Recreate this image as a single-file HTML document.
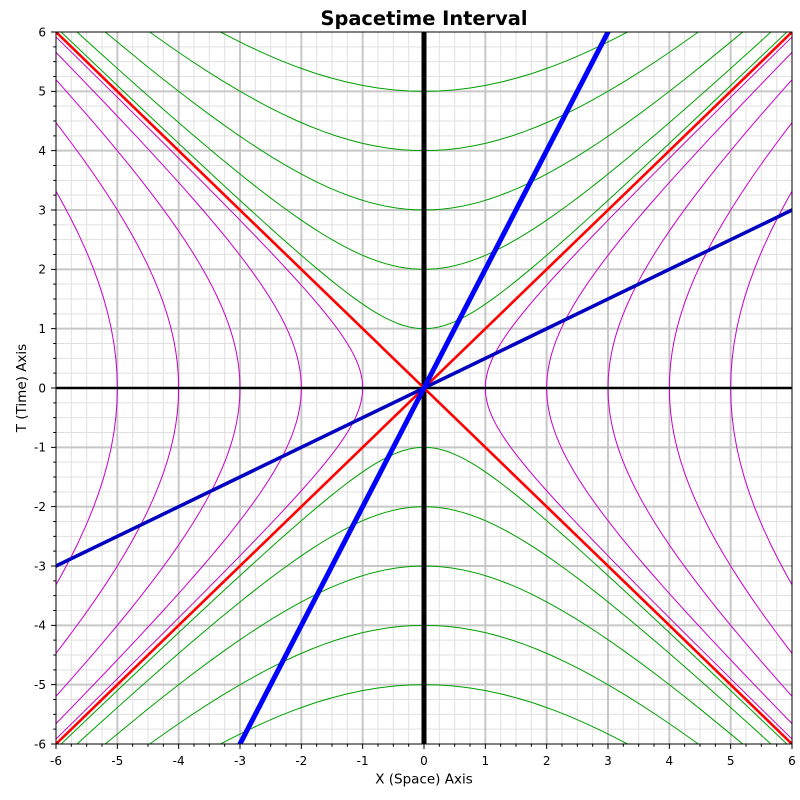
<!DOCTYPE html>
<html><head><meta charset="utf-8"><style>
html,body{margin:0;padding:0;background:#fff;width:800px;height:800px;overflow:hidden;}
svg{display:block;}
text{font-family:"DejaVu Sans","Liberation Sans",sans-serif;fill:#000;}
.ns{vector-effect:non-scaling-stroke;fill:none;stroke-linejoin:round;}
</style></head><body>
<svg width="800" height="800" viewBox="0 0 800 800" xmlns="http://www.w3.org/2000/svg">
<rect x="0" y="0" width="800" height="800" fill="#fff"/>
<defs><clipPath id="c"><rect x="56" y="32" width="736" height="712"/></clipPath></defs>
<g clip-path="url(#c)">
<g transform="translate(424 388) scale(61.33333 -59.33333)">
<path class="ns" stroke="#e0e0e0" stroke-width="1" d="M-5.75 -6V6M-5.5 -6V6M-5.25 -6V6M-4.75 -6V6M-4.5 -6V6M-4.25 -6V6M-3.75 -6V6M-3.5 -6V6M-3.25 -6V6M-2.75 -6V6M-2.5 -6V6M-2.25 -6V6M-1.75 -6V6M-1.5 -6V6M-1.25 -6V6M-0.75 -6V6M-0.5 -6V6M-0.25 -6V6M0.25 -6V6M0.5 -6V6M0.75 -6V6M1.25 -6V6M1.5 -6V6M1.75 -6V6M2.25 -6V6M2.5 -6V6M2.75 -6V6M3.25 -6V6M3.5 -6V6M3.75 -6V6M4.25 -6V6M4.5 -6V6M4.75 -6V6M5.25 -6V6M5.5 -6V6M5.75 -6V6M-6 -5.75H6M-6 -5.5H6M-6 -5.25H6M-6 -4.75H6M-6 -4.5H6M-6 -4.25H6M-6 -3.75H6M-6 -3.5H6M-6 -3.25H6M-6 -2.75H6M-6 -2.5H6M-6 -2.25H6M-6 -1.75H6M-6 -1.5H6M-6 -1.25H6M-6 -0.75H6M-6 -0.5H6M-6 -0.25H6M-6 0.25H6M-6 0.5H6M-6 0.75H6M-6 1.25H6M-6 1.5H6M-6 1.75H6M-6 2.25H6M-6 2.5H6M-6 2.75H6M-6 3.25H6M-6 3.5H6M-6 3.75H6M-6 4.25H6M-6 4.5H6M-6 4.75H6M-6 5.25H6M-6 5.5H6M-6 5.75H6"/>
<path class="ns" stroke="#c8c8c8" stroke-width="2" d="M-5 -6V6M-4 -6V6M-3 -6V6M-2 -6V6M-1 -6V6M0 -6V6M1 -6V6M2 -6V6M3 -6V6M4 -6V6M5 -6V6M-6 -5H6M-6 -4H6M-6 -3H6M-6 -2H6M-6 -1H6M-6 0H6M-6 1H6M-6 2H6M-6 3H6M-6 4H6M-6 5H6"/>
<g stroke="#00a000" stroke-width="1">
<path class="ns" transform="scale(1 1)" d="M-5.91608 6L-5.46623 5.55695L-4.93696 5.03722L-4.45711 4.56791L-4.02186 4.14431L-3.62686 3.7622L-3.26816 3.41773L-2.94217 3.10747L-2.64563 2.82832L-2.37557 2.57746L-2.12928 2.35241L-1.9043 2.1509L-1.69838 1.97091L-1.50946 1.81066L-1.42078 1.73742L-1.33565 1.66852L-1.25386 1.60379L-1.1752 1.54308L-1.09948 1.48622L-1.02652 1.43309L-0.95612 1.38353L-0.88811 1.33743L-0.82232 1.29468L-0.75858 1.25517L-0.69675 1.21879L-0.63665 1.18547L-0.57815 1.1551L-0.5211 1.12763L-0.46534 1.10297L-0.41075 1.08107L-0.35719 1.06188L-0.30452 1.04534L-0.25261 1.03141L-0.20134 1.02007L-0.15056 1.01127L-0.10017 1.005L-0.05002 1.00125L0 1L0.05002 1.00125L0.10017 1.005L0.15056 1.01127L0.20134 1.02007L0.25261 1.03141L0.30452 1.04534L0.35719 1.06188L0.41075 1.08107L0.46534 1.10297L0.5211 1.12763L0.57815 1.1551L0.63665 1.18547L0.69675 1.21879L0.75858 1.25517L0.82232 1.29468L0.88811 1.33743L0.95612 1.38353L1.02652 1.43309L1.09948 1.48622L1.1752 1.54308L1.25386 1.60379L1.33565 1.66852L1.42078 1.73742L1.50946 1.81066L1.69838 1.97091L1.9043 2.1509L2.12928 2.35241L2.37557 2.57746L2.64563 2.82832L2.94217 3.10747L3.26816 3.41773L3.62686 3.7622L4.02186 4.14431L4.45711 4.56791L4.93696 5.03722L5.46623 5.55695L5.91608 6"/>
<path class="ns" transform="scale(2 2)" d="M-2.82843 3L-2.64563 2.82832L-2.37557 2.57746L-2.12928 2.35241L-1.9043 2.1509L-1.69838 1.97091L-1.50946 1.81066L-1.42078 1.73742L-1.33565 1.66852L-1.25386 1.60379L-1.1752 1.54308L-1.09948 1.48622L-1.02652 1.43309L-0.95612 1.38353L-0.88811 1.33743L-0.82232 1.29468L-0.75858 1.25517L-0.69675 1.21879L-0.63665 1.18547L-0.57815 1.1551L-0.5211 1.12763L-0.46534 1.10297L-0.41075 1.08107L-0.35719 1.06188L-0.30452 1.04534L-0.25261 1.03141L-0.20134 1.02007L-0.15056 1.01127L-0.10017 1.005L-0.05002 1.00125L0 1L0.05002 1.00125L0.10017 1.005L0.15056 1.01127L0.20134 1.02007L0.25261 1.03141L0.30452 1.04534L0.35719 1.06188L0.41075 1.08107L0.46534 1.10297L0.5211 1.12763L0.57815 1.1551L0.63665 1.18547L0.69675 1.21879L0.75858 1.25517L0.82232 1.29468L0.88811 1.33743L0.95612 1.38353L1.02652 1.43309L1.09948 1.48622L1.1752 1.54308L1.25386 1.60379L1.33565 1.66852L1.42078 1.73742L1.50946 1.81066L1.69838 1.97091L1.9043 2.1509L2.12928 2.35241L2.37557 2.57746L2.64563 2.82832L2.82843 3"/>
<path class="ns" transform="scale(3 3)" d="M-1.73205 2L-1.69838 1.97091L-1.50946 1.81066L-1.42078 1.73742L-1.33565 1.66852L-1.25386 1.60379L-1.1752 1.54308L-1.09948 1.48622L-1.02652 1.43309L-0.95612 1.38353L-0.88811 1.33743L-0.82232 1.29468L-0.75858 1.25517L-0.69675 1.21879L-0.63665 1.18547L-0.57815 1.1551L-0.5211 1.12763L-0.46534 1.10297L-0.41075 1.08107L-0.35719 1.06188L-0.30452 1.04534L-0.25261 1.03141L-0.20134 1.02007L-0.15056 1.01127L-0.10017 1.005L-0.05002 1.00125L0 1L0.05002 1.00125L0.10017 1.005L0.15056 1.01127L0.20134 1.02007L0.25261 1.03141L0.30452 1.04534L0.35719 1.06188L0.41075 1.08107L0.46534 1.10297L0.5211 1.12763L0.57815 1.1551L0.63665 1.18547L0.69675 1.21879L0.75858 1.25517L0.82232 1.29468L0.88811 1.33743L0.95612 1.38353L1.02652 1.43309L1.09948 1.48622L1.1752 1.54308L1.25386 1.60379L1.33565 1.66852L1.42078 1.73742L1.50946 1.81066L1.69838 1.97091L1.73205 2"/>
<path class="ns" transform="scale(4 4)" d="M-1.11803 1.5L-1.09948 1.48622L-1.02652 1.43309L-0.95612 1.38353L-0.88811 1.33743L-0.82232 1.29468L-0.75858 1.25517L-0.69675 1.21879L-0.63665 1.18547L-0.57815 1.1551L-0.5211 1.12763L-0.46534 1.10297L-0.41075 1.08107L-0.35719 1.06188L-0.30452 1.04534L-0.25261 1.03141L-0.20134 1.02007L-0.15056 1.01127L-0.10017 1.005L-0.05002 1.00125L0 1L0.05002 1.00125L0.10017 1.005L0.15056 1.01127L0.20134 1.02007L0.25261 1.03141L0.30452 1.04534L0.35719 1.06188L0.41075 1.08107L0.46534 1.10297L0.5211 1.12763L0.57815 1.1551L0.63665 1.18547L0.69675 1.21879L0.75858 1.25517L0.82232 1.29468L0.88811 1.33743L0.95612 1.38353L1.02652 1.43309L1.09948 1.48622L1.11803 1.5"/>
<path class="ns" transform="scale(5 5)" d="M-0.66332 1.2L-0.63665 1.18547L-0.57815 1.1551L-0.5211 1.12763L-0.46534 1.10297L-0.41075 1.08107L-0.35719 1.06188L-0.30452 1.04534L-0.25261 1.03141L-0.20134 1.02007L-0.15056 1.01127L-0.10017 1.005L-0.05002 1.00125L0 1L0.05002 1.00125L0.10017 1.005L0.15056 1.01127L0.20134 1.02007L0.25261 1.03141L0.30452 1.04534L0.35719 1.06188L0.41075 1.08107L0.46534 1.10297L0.5211 1.12763L0.57815 1.1551L0.63665 1.18547L0.66332 1.2"/>
<path class="ns" transform="scale(1 -1)" d="M-5.91608 6L-5.46623 5.55695L-4.93696 5.03722L-4.45711 4.56791L-4.02186 4.14431L-3.62686 3.7622L-3.26816 3.41773L-2.94217 3.10747L-2.64563 2.82832L-2.37557 2.57746L-2.12928 2.35241L-1.9043 2.1509L-1.69838 1.97091L-1.50946 1.81066L-1.42078 1.73742L-1.33565 1.66852L-1.25386 1.60379L-1.1752 1.54308L-1.09948 1.48622L-1.02652 1.43309L-0.95612 1.38353L-0.88811 1.33743L-0.82232 1.29468L-0.75858 1.25517L-0.69675 1.21879L-0.63665 1.18547L-0.57815 1.1551L-0.5211 1.12763L-0.46534 1.10297L-0.41075 1.08107L-0.35719 1.06188L-0.30452 1.04534L-0.25261 1.03141L-0.20134 1.02007L-0.15056 1.01127L-0.10017 1.005L-0.05002 1.00125L0 1L0.05002 1.00125L0.10017 1.005L0.15056 1.01127L0.20134 1.02007L0.25261 1.03141L0.30452 1.04534L0.35719 1.06188L0.41075 1.08107L0.46534 1.10297L0.5211 1.12763L0.57815 1.1551L0.63665 1.18547L0.69675 1.21879L0.75858 1.25517L0.82232 1.29468L0.88811 1.33743L0.95612 1.38353L1.02652 1.43309L1.09948 1.48622L1.1752 1.54308L1.25386 1.60379L1.33565 1.66852L1.42078 1.73742L1.50946 1.81066L1.69838 1.97091L1.9043 2.1509L2.12928 2.35241L2.37557 2.57746L2.64563 2.82832L2.94217 3.10747L3.26816 3.41773L3.62686 3.7622L4.02186 4.14431L4.45711 4.56791L4.93696 5.03722L5.46623 5.55695L5.91608 6"/>
<path class="ns" transform="scale(2 -2)" d="M-2.82843 3L-2.64563 2.82832L-2.37557 2.57746L-2.12928 2.35241L-1.9043 2.1509L-1.69838 1.97091L-1.50946 1.81066L-1.42078 1.73742L-1.33565 1.66852L-1.25386 1.60379L-1.1752 1.54308L-1.09948 1.48622L-1.02652 1.43309L-0.95612 1.38353L-0.88811 1.33743L-0.82232 1.29468L-0.75858 1.25517L-0.69675 1.21879L-0.63665 1.18547L-0.57815 1.1551L-0.5211 1.12763L-0.46534 1.10297L-0.41075 1.08107L-0.35719 1.06188L-0.30452 1.04534L-0.25261 1.03141L-0.20134 1.02007L-0.15056 1.01127L-0.10017 1.005L-0.05002 1.00125L0 1L0.05002 1.00125L0.10017 1.005L0.15056 1.01127L0.20134 1.02007L0.25261 1.03141L0.30452 1.04534L0.35719 1.06188L0.41075 1.08107L0.46534 1.10297L0.5211 1.12763L0.57815 1.1551L0.63665 1.18547L0.69675 1.21879L0.75858 1.25517L0.82232 1.29468L0.88811 1.33743L0.95612 1.38353L1.02652 1.43309L1.09948 1.48622L1.1752 1.54308L1.25386 1.60379L1.33565 1.66852L1.42078 1.73742L1.50946 1.81066L1.69838 1.97091L1.9043 2.1509L2.12928 2.35241L2.37557 2.57746L2.64563 2.82832L2.82843 3"/>
<path class="ns" transform="scale(3 -3)" d="M-1.73205 2L-1.69838 1.97091L-1.50946 1.81066L-1.42078 1.73742L-1.33565 1.66852L-1.25386 1.60379L-1.1752 1.54308L-1.09948 1.48622L-1.02652 1.43309L-0.95612 1.38353L-0.88811 1.33743L-0.82232 1.29468L-0.75858 1.25517L-0.69675 1.21879L-0.63665 1.18547L-0.57815 1.1551L-0.5211 1.12763L-0.46534 1.10297L-0.41075 1.08107L-0.35719 1.06188L-0.30452 1.04534L-0.25261 1.03141L-0.20134 1.02007L-0.15056 1.01127L-0.10017 1.005L-0.05002 1.00125L0 1L0.05002 1.00125L0.10017 1.005L0.15056 1.01127L0.20134 1.02007L0.25261 1.03141L0.30452 1.04534L0.35719 1.06188L0.41075 1.08107L0.46534 1.10297L0.5211 1.12763L0.57815 1.1551L0.63665 1.18547L0.69675 1.21879L0.75858 1.25517L0.82232 1.29468L0.88811 1.33743L0.95612 1.38353L1.02652 1.43309L1.09948 1.48622L1.1752 1.54308L1.25386 1.60379L1.33565 1.66852L1.42078 1.73742L1.50946 1.81066L1.69838 1.97091L1.73205 2"/>
<path class="ns" transform="scale(4 -4)" d="M-1.11803 1.5L-1.09948 1.48622L-1.02652 1.43309L-0.95612 1.38353L-0.88811 1.33743L-0.82232 1.29468L-0.75858 1.25517L-0.69675 1.21879L-0.63665 1.18547L-0.57815 1.1551L-0.5211 1.12763L-0.46534 1.10297L-0.41075 1.08107L-0.35719 1.06188L-0.30452 1.04534L-0.25261 1.03141L-0.20134 1.02007L-0.15056 1.01127L-0.10017 1.005L-0.05002 1.00125L0 1L0.05002 1.00125L0.10017 1.005L0.15056 1.01127L0.20134 1.02007L0.25261 1.03141L0.30452 1.04534L0.35719 1.06188L0.41075 1.08107L0.46534 1.10297L0.5211 1.12763L0.57815 1.1551L0.63665 1.18547L0.69675 1.21879L0.75858 1.25517L0.82232 1.29468L0.88811 1.33743L0.95612 1.38353L1.02652 1.43309L1.09948 1.48622L1.11803 1.5"/>
<path class="ns" transform="scale(5 -5)" d="M-0.66332 1.2L-0.63665 1.18547L-0.57815 1.1551L-0.5211 1.12763L-0.46534 1.10297L-0.41075 1.08107L-0.35719 1.06188L-0.30452 1.04534L-0.25261 1.03141L-0.20134 1.02007L-0.15056 1.01127L-0.10017 1.005L-0.05002 1.00125L0 1L0.05002 1.00125L0.10017 1.005L0.15056 1.01127L0.20134 1.02007L0.25261 1.03141L0.30452 1.04534L0.35719 1.06188L0.41075 1.08107L0.46534 1.10297L0.5211 1.12763L0.57815 1.1551L0.63665 1.18547L0.66332 1.2"/>
</g>
<g stroke="#c800c8" stroke-width="1">
<path class="ns" transform="matrix(0 1 1 0 0 0)" d="M-5.91608 6L-5.46623 5.55695L-4.93696 5.03722L-4.45711 4.56791L-4.02186 4.14431L-3.62686 3.7622L-3.26816 3.41773L-2.94217 3.10747L-2.64563 2.82832L-2.37557 2.57746L-2.12928 2.35241L-1.9043 2.1509L-1.69838 1.97091L-1.50946 1.81066L-1.42078 1.73742L-1.33565 1.66852L-1.25386 1.60379L-1.1752 1.54308L-1.09948 1.48622L-1.02652 1.43309L-0.95612 1.38353L-0.88811 1.33743L-0.82232 1.29468L-0.75858 1.25517L-0.69675 1.21879L-0.63665 1.18547L-0.57815 1.1551L-0.5211 1.12763L-0.46534 1.10297L-0.41075 1.08107L-0.35719 1.06188L-0.30452 1.04534L-0.25261 1.03141L-0.20134 1.02007L-0.15056 1.01127L-0.10017 1.005L-0.05002 1.00125L0 1L0.05002 1.00125L0.10017 1.005L0.15056 1.01127L0.20134 1.02007L0.25261 1.03141L0.30452 1.04534L0.35719 1.06188L0.41075 1.08107L0.46534 1.10297L0.5211 1.12763L0.57815 1.1551L0.63665 1.18547L0.69675 1.21879L0.75858 1.25517L0.82232 1.29468L0.88811 1.33743L0.95612 1.38353L1.02652 1.43309L1.09948 1.48622L1.1752 1.54308L1.25386 1.60379L1.33565 1.66852L1.42078 1.73742L1.50946 1.81066L1.69838 1.97091L1.9043 2.1509L2.12928 2.35241L2.37557 2.57746L2.64563 2.82832L2.94217 3.10747L3.26816 3.41773L3.62686 3.7622L4.02186 4.14431L4.45711 4.56791L4.93696 5.03722L5.46623 5.55695L5.91608 6"/>
<path class="ns" transform="matrix(0 2 2 0 0 0)" d="M-2.82843 3L-2.64563 2.82832L-2.37557 2.57746L-2.12928 2.35241L-1.9043 2.1509L-1.69838 1.97091L-1.50946 1.81066L-1.42078 1.73742L-1.33565 1.66852L-1.25386 1.60379L-1.1752 1.54308L-1.09948 1.48622L-1.02652 1.43309L-0.95612 1.38353L-0.88811 1.33743L-0.82232 1.29468L-0.75858 1.25517L-0.69675 1.21879L-0.63665 1.18547L-0.57815 1.1551L-0.5211 1.12763L-0.46534 1.10297L-0.41075 1.08107L-0.35719 1.06188L-0.30452 1.04534L-0.25261 1.03141L-0.20134 1.02007L-0.15056 1.01127L-0.10017 1.005L-0.05002 1.00125L0 1L0.05002 1.00125L0.10017 1.005L0.15056 1.01127L0.20134 1.02007L0.25261 1.03141L0.30452 1.04534L0.35719 1.06188L0.41075 1.08107L0.46534 1.10297L0.5211 1.12763L0.57815 1.1551L0.63665 1.18547L0.69675 1.21879L0.75858 1.25517L0.82232 1.29468L0.88811 1.33743L0.95612 1.38353L1.02652 1.43309L1.09948 1.48622L1.1752 1.54308L1.25386 1.60379L1.33565 1.66852L1.42078 1.73742L1.50946 1.81066L1.69838 1.97091L1.9043 2.1509L2.12928 2.35241L2.37557 2.57746L2.64563 2.82832L2.82843 3"/>
<path class="ns" transform="matrix(0 3 3 0 0 0)" d="M-1.73205 2L-1.69838 1.97091L-1.50946 1.81066L-1.42078 1.73742L-1.33565 1.66852L-1.25386 1.60379L-1.1752 1.54308L-1.09948 1.48622L-1.02652 1.43309L-0.95612 1.38353L-0.88811 1.33743L-0.82232 1.29468L-0.75858 1.25517L-0.69675 1.21879L-0.63665 1.18547L-0.57815 1.1551L-0.5211 1.12763L-0.46534 1.10297L-0.41075 1.08107L-0.35719 1.06188L-0.30452 1.04534L-0.25261 1.03141L-0.20134 1.02007L-0.15056 1.01127L-0.10017 1.005L-0.05002 1.00125L0 1L0.05002 1.00125L0.10017 1.005L0.15056 1.01127L0.20134 1.02007L0.25261 1.03141L0.30452 1.04534L0.35719 1.06188L0.41075 1.08107L0.46534 1.10297L0.5211 1.12763L0.57815 1.1551L0.63665 1.18547L0.69675 1.21879L0.75858 1.25517L0.82232 1.29468L0.88811 1.33743L0.95612 1.38353L1.02652 1.43309L1.09948 1.48622L1.1752 1.54308L1.25386 1.60379L1.33565 1.66852L1.42078 1.73742L1.50946 1.81066L1.69838 1.97091L1.73205 2"/>
<path class="ns" transform="matrix(0 4 4 0 0 0)" d="M-1.11803 1.5L-1.09948 1.48622L-1.02652 1.43309L-0.95612 1.38353L-0.88811 1.33743L-0.82232 1.29468L-0.75858 1.25517L-0.69675 1.21879L-0.63665 1.18547L-0.57815 1.1551L-0.5211 1.12763L-0.46534 1.10297L-0.41075 1.08107L-0.35719 1.06188L-0.30452 1.04534L-0.25261 1.03141L-0.20134 1.02007L-0.15056 1.01127L-0.10017 1.005L-0.05002 1.00125L0 1L0.05002 1.00125L0.10017 1.005L0.15056 1.01127L0.20134 1.02007L0.25261 1.03141L0.30452 1.04534L0.35719 1.06188L0.41075 1.08107L0.46534 1.10297L0.5211 1.12763L0.57815 1.1551L0.63665 1.18547L0.69675 1.21879L0.75858 1.25517L0.82232 1.29468L0.88811 1.33743L0.95612 1.38353L1.02652 1.43309L1.09948 1.48622L1.11803 1.5"/>
<path class="ns" transform="matrix(0 5 5 0 0 0)" d="M-0.66332 1.2L-0.63665 1.18547L-0.57815 1.1551L-0.5211 1.12763L-0.46534 1.10297L-0.41075 1.08107L-0.35719 1.06188L-0.30452 1.04534L-0.25261 1.03141L-0.20134 1.02007L-0.15056 1.01127L-0.10017 1.005L-0.05002 1.00125L0 1L0.05002 1.00125L0.10017 1.005L0.15056 1.01127L0.20134 1.02007L0.25261 1.03141L0.30452 1.04534L0.35719 1.06188L0.41075 1.08107L0.46534 1.10297L0.5211 1.12763L0.57815 1.1551L0.63665 1.18547L0.66332 1.2"/>
<path class="ns" transform="matrix(0 1 -1 0 0 0)" d="M-5.91608 6L-5.46623 5.55695L-4.93696 5.03722L-4.45711 4.56791L-4.02186 4.14431L-3.62686 3.7622L-3.26816 3.41773L-2.94217 3.10747L-2.64563 2.82832L-2.37557 2.57746L-2.12928 2.35241L-1.9043 2.1509L-1.69838 1.97091L-1.50946 1.81066L-1.42078 1.73742L-1.33565 1.66852L-1.25386 1.60379L-1.1752 1.54308L-1.09948 1.48622L-1.02652 1.43309L-0.95612 1.38353L-0.88811 1.33743L-0.82232 1.29468L-0.75858 1.25517L-0.69675 1.21879L-0.63665 1.18547L-0.57815 1.1551L-0.5211 1.12763L-0.46534 1.10297L-0.41075 1.08107L-0.35719 1.06188L-0.30452 1.04534L-0.25261 1.03141L-0.20134 1.02007L-0.15056 1.01127L-0.10017 1.005L-0.05002 1.00125L0 1L0.05002 1.00125L0.10017 1.005L0.15056 1.01127L0.20134 1.02007L0.25261 1.03141L0.30452 1.04534L0.35719 1.06188L0.41075 1.08107L0.46534 1.10297L0.5211 1.12763L0.57815 1.1551L0.63665 1.18547L0.69675 1.21879L0.75858 1.25517L0.82232 1.29468L0.88811 1.33743L0.95612 1.38353L1.02652 1.43309L1.09948 1.48622L1.1752 1.54308L1.25386 1.60379L1.33565 1.66852L1.42078 1.73742L1.50946 1.81066L1.69838 1.97091L1.9043 2.1509L2.12928 2.35241L2.37557 2.57746L2.64563 2.82832L2.94217 3.10747L3.26816 3.41773L3.62686 3.7622L4.02186 4.14431L4.45711 4.56791L4.93696 5.03722L5.46623 5.55695L5.91608 6"/>
<path class="ns" transform="matrix(0 2 -2 0 0 0)" d="M-2.82843 3L-2.64563 2.82832L-2.37557 2.57746L-2.12928 2.35241L-1.9043 2.1509L-1.69838 1.97091L-1.50946 1.81066L-1.42078 1.73742L-1.33565 1.66852L-1.25386 1.60379L-1.1752 1.54308L-1.09948 1.48622L-1.02652 1.43309L-0.95612 1.38353L-0.88811 1.33743L-0.82232 1.29468L-0.75858 1.25517L-0.69675 1.21879L-0.63665 1.18547L-0.57815 1.1551L-0.5211 1.12763L-0.46534 1.10297L-0.41075 1.08107L-0.35719 1.06188L-0.30452 1.04534L-0.25261 1.03141L-0.20134 1.02007L-0.15056 1.01127L-0.10017 1.005L-0.05002 1.00125L0 1L0.05002 1.00125L0.10017 1.005L0.15056 1.01127L0.20134 1.02007L0.25261 1.03141L0.30452 1.04534L0.35719 1.06188L0.41075 1.08107L0.46534 1.10297L0.5211 1.12763L0.57815 1.1551L0.63665 1.18547L0.69675 1.21879L0.75858 1.25517L0.82232 1.29468L0.88811 1.33743L0.95612 1.38353L1.02652 1.43309L1.09948 1.48622L1.1752 1.54308L1.25386 1.60379L1.33565 1.66852L1.42078 1.73742L1.50946 1.81066L1.69838 1.97091L1.9043 2.1509L2.12928 2.35241L2.37557 2.57746L2.64563 2.82832L2.82843 3"/>
<path class="ns" transform="matrix(0 3 -3 0 0 0)" d="M-1.73205 2L-1.69838 1.97091L-1.50946 1.81066L-1.42078 1.73742L-1.33565 1.66852L-1.25386 1.60379L-1.1752 1.54308L-1.09948 1.48622L-1.02652 1.43309L-0.95612 1.38353L-0.88811 1.33743L-0.82232 1.29468L-0.75858 1.25517L-0.69675 1.21879L-0.63665 1.18547L-0.57815 1.1551L-0.5211 1.12763L-0.46534 1.10297L-0.41075 1.08107L-0.35719 1.06188L-0.30452 1.04534L-0.25261 1.03141L-0.20134 1.02007L-0.15056 1.01127L-0.10017 1.005L-0.05002 1.00125L0 1L0.05002 1.00125L0.10017 1.005L0.15056 1.01127L0.20134 1.02007L0.25261 1.03141L0.30452 1.04534L0.35719 1.06188L0.41075 1.08107L0.46534 1.10297L0.5211 1.12763L0.57815 1.1551L0.63665 1.18547L0.69675 1.21879L0.75858 1.25517L0.82232 1.29468L0.88811 1.33743L0.95612 1.38353L1.02652 1.43309L1.09948 1.48622L1.1752 1.54308L1.25386 1.60379L1.33565 1.66852L1.42078 1.73742L1.50946 1.81066L1.69838 1.97091L1.73205 2"/>
<path class="ns" transform="matrix(0 4 -4 0 0 0)" d="M-1.11803 1.5L-1.09948 1.48622L-1.02652 1.43309L-0.95612 1.38353L-0.88811 1.33743L-0.82232 1.29468L-0.75858 1.25517L-0.69675 1.21879L-0.63665 1.18547L-0.57815 1.1551L-0.5211 1.12763L-0.46534 1.10297L-0.41075 1.08107L-0.35719 1.06188L-0.30452 1.04534L-0.25261 1.03141L-0.20134 1.02007L-0.15056 1.01127L-0.10017 1.005L-0.05002 1.00125L0 1L0.05002 1.00125L0.10017 1.005L0.15056 1.01127L0.20134 1.02007L0.25261 1.03141L0.30452 1.04534L0.35719 1.06188L0.41075 1.08107L0.46534 1.10297L0.5211 1.12763L0.57815 1.1551L0.63665 1.18547L0.69675 1.21879L0.75858 1.25517L0.82232 1.29468L0.88811 1.33743L0.95612 1.38353L1.02652 1.43309L1.09948 1.48622L1.11803 1.5"/>
<path class="ns" transform="matrix(0 5 -5 0 0 0)" d="M-0.66332 1.2L-0.63665 1.18547L-0.57815 1.1551L-0.5211 1.12763L-0.46534 1.10297L-0.41075 1.08107L-0.35719 1.06188L-0.30452 1.04534L-0.25261 1.03141L-0.20134 1.02007L-0.15056 1.01127L-0.10017 1.005L-0.05002 1.00125L0 1L0.05002 1.00125L0.10017 1.005L0.15056 1.01127L0.20134 1.02007L0.25261 1.03141L0.30452 1.04534L0.35719 1.06188L0.41075 1.08107L0.46534 1.10297L0.5211 1.12763L0.57815 1.1551L0.63665 1.18547L0.66332 1.2"/>
</g>
<path class="ns" stroke="#000" stroke-width="2.5" d="M-6.1 0H6.1"/>
<path class="ns" stroke="#000" stroke-width="5" d="M0 -6.1V6.1"/>
<path class="ns" stroke="#ff0000" stroke-width="2.6" d="M-6.1 -6.1L6.1 6.1M-6.1 6.1L6.1 -6.1"/>
<path class="ns" stroke="#0000c0" stroke-width="3.5" d="M-6.1 -3.05L6.1 3.05"/>
<path class="ns" stroke="#0000ff" stroke-width="5" d="M-3.05 -6.1L3.05 6.1"/>
</g>
</g>
<rect x="56" y="32" width="736" height="712" fill="none" stroke="#000" stroke-width="1"/>
<g transform="translate(0 388) scale(1 -59.33333)">
<path class="ns" stroke="#000" stroke-width="1" d="M51 -6H56M51 -5H56M51 -4H56M51 -3H56M51 -2H56M51 -1H56M51 0H56M51 1H56M51 2H56M51 3H56M51 4H56M51 5H56M51 6H56"/>
<path class="ns" stroke="#000" stroke-width="1" d="M53.2 -5.75H56M53.2 -5.5H56M53.2 -5.25H56M53.2 -4.75H56M53.2 -4.5H56M53.2 -4.25H56M53.2 -3.75H56M53.2 -3.5H56M53.2 -3.25H56M53.2 -2.75H56M53.2 -2.5H56M53.2 -2.25H56M53.2 -1.75H56M53.2 -1.5H56M53.2 -1.25H56M53.2 -0.75H56M53.2 -0.5H56M53.2 -0.25H56M53.2 0.25H56M53.2 0.5H56M53.2 0.75H56M53.2 1.25H56M53.2 1.5H56M53.2 1.75H56M53.2 2.25H56M53.2 2.5H56M53.2 2.75H56M53.2 3.25H56M53.2 3.5H56M53.2 3.75H56M53.2 4.25H56M53.2 4.5H56M53.2 4.75H56M53.2 5.25H56M53.2 5.5H56M53.2 5.75H56"/>
</g>
<g transform="translate(424 0) scale(61.33333 1)">
<path class="ns" stroke="#000" stroke-width="1" d="M-6 744V749M-5 744V749M-4 744V749M-3 744V749M-2 744V749M-1 744V749M0 744V749M1 744V749M2 744V749M3 744V749M4 744V749M5 744V749M6 744V749"/>
<path class="ns" stroke="#000" stroke-width="1" d="M-5.75 744V746.8M-5.5 744V746.8M-5.25 744V746.8M-4.75 744V746.8M-4.5 744V746.8M-4.25 744V746.8M-3.75 744V746.8M-3.5 744V746.8M-3.25 744V746.8M-2.75 744V746.8M-2.5 744V746.8M-2.25 744V746.8M-1.75 744V746.8M-1.5 744V746.8M-1.25 744V746.8M-0.75 744V746.8M-0.5 744V746.8M-0.25 744V746.8M0.25 744V746.8M0.5 744V746.8M0.75 744V746.8M1.25 744V746.8M1.5 744V746.8M1.75 744V746.8M2.25 744V746.8M2.5 744V746.8M2.75 744V746.8M3.25 744V746.8M3.5 744V746.8M3.75 744V746.8M4.25 744V746.8M4.5 744V746.8M4.75 744V746.8M5.25 744V746.8M5.5 744V746.8M5.75 744V746.8"/>
</g>
<g font-size="12" text-anchor="end">
<text x="46" y="36.4">6</text>
<text x="46" y="95.7">5</text>
<text x="46" y="155.1">4</text>
<text x="46" y="214.4">3</text>
<text x="46" y="273.7">2</text>
<text x="46" y="333.1">1</text>
<text x="46" y="392.4">0</text>
<text x="46" y="451.7">-1</text>
<text x="46" y="511.1">-2</text>
<text x="46" y="570.4">-3</text>
<text x="46" y="629.7">-4</text>
<text x="46" y="689.1">-5</text>
<text x="46" y="748.4">-6</text>
</g>
<g font-size="12" text-anchor="middle">
<text x="56" y="765">-6</text>
<text x="117.33" y="765">-5</text>
<text x="178.67" y="765">-4</text>
<text x="240" y="765">-3</text>
<text x="301.33" y="765">-2</text>
<text x="362.67" y="765">-1</text>
<text x="424" y="765">0</text>
<text x="485.33" y="765">1</text>
<text x="546.67" y="765">2</text>
<text x="608" y="765">3</text>
<text x="669.33" y="765">4</text>
<text x="730.67" y="765">5</text>
<text x="792" y="765">6</text>
</g>
<text x="424" y="783.5" font-size="13.5" text-anchor="middle">X (Space) Axis</text>
<text transform="translate(26 388) rotate(-90)" font-size="13.5" text-anchor="middle">T (Time) Axis</text>
<text x="424" y="25" font-size="19.4" font-weight="bold" text-anchor="middle">Spacetime Interval</text>
</svg>
</body></html>
